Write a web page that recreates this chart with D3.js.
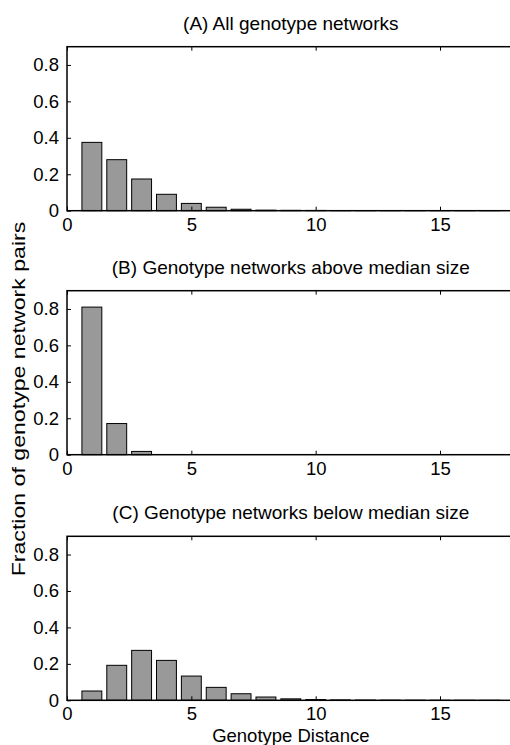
<!DOCTYPE html>
<html><head><meta charset="utf-8">
<script src="https://cdn.jsdelivr.net/npm/d3@7"></script>
<style>body{margin:0;background:#fff}svg{display:block}text{font-family:Arial,"Liberation Sans",sans-serif;fill:#000}</style>
</head><body>
<script>
const distances = d3.range(1, 18);
const titles = ["(A) All genotype networks", "(B) Genotype networks above median size", "(C) Genotype networks below median size"];
const allValues   = [0.375,0.28,0.174,0.09,0.04,0.019,0.008,0.003,0.002,0.0015,0.001,0.001,0.0008,0.0006,0.0005,0.0004,0.0003];
const aboveValues = [0.81,0.171,0.018,0,0,0,0,0,0,0,0,0,0,0,0,0,0];
const belowValues = [0.051,0.192,0.274,0.219,0.133,0.071,0.036,0.018,0.008,0.004,0.002,0.0012,0.0008,0.0005,0.0003,0.0002,0.0001];
const xTicks = [0,5,10,15];
const yTicks = [0,0.2,0.4,0.6,0.8];
const xLabel = "Genotype Distance";
const yLabel = "Fraction of genotype network pairs";

const W = 510, H = 745;
const svg = d3.select("body").append("svg").attr("width", W).attr("height", H);
const left = 67, right = 514.6, ph = 164;
const tops = [46.7, 290.7, 536.3];
const series = [allValues, aboveValues, belowValues];
const x = d3.scaleLinear().domain([0,18]).range([left,right]);
const barW = x(0.8) - x(0);

series.forEach((vals, i) => {
  const top = tops[i];
  const y = d3.scaleLinear().domain([0,0.9]).range([top+ph, top]);
  const g = svg.append("g");
  g.selectAll("rect.bar").data(distances).enter().append("rect")
    .attr("x", d => x(d) - barW/2).attr("width", barW)
    .attr("y", (d,j) => y(vals[j])).attr("height", (d,j) => y(0) - y(vals[j]))
    .attr("fill", "#999999").attr("stroke", "#000").attr("stroke-width", 1);
  // box
  g.append("rect").attr("x", left).attr("y", top).attr("width", right-left).attr("height", ph)
    .attr("fill","none").attr("stroke","#000").attr("stroke-width",1.5);
  // x axis bottom ticks
  const xb = d3.axisBottom(x).tickValues(xTicks).tickSizeInner(-4).tickSizeOuter(0).tickPadding(10).tickFormat(d3.format("d"));
  const ax = g.append("g").attr("transform", `translate(0,${top+ph})`).call(xb);
  ax.select(".domain").remove();
  ax.selectAll("line").attr("stroke-width",1);
  ax.selectAll("text").attr("font-size", 18.5).attr("dy", "0.75em").attr("y", 6);
  // top ticks
  const xt = d3.axisTop(x).tickValues(xTicks).tickSizeInner(-4).tickSizeOuter(0).tickFormat("");
  const at = g.append("g").attr("transform", `translate(0,${top})`).call(xt);
  at.select(".domain").remove();
  // y axis
  const yl = d3.axisLeft(y).tickValues(yTicks).tickSizeInner(-4).tickSizeOuter(0).tickPadding(8)
    .tickFormat(d => d === 0 ? "0" : d3.format(".1f")(d));
  const ay = g.append("g").attr("transform", `translate(${left},0)`).call(yl);
  ay.select(".domain").remove();
  ay.selectAll("text").attr("font-size", 18.5);
  // title
  svg.append("text").attr("x", (left+right)/2).attr("y", top - 17).attr("text-anchor","middle")
    .attr("font-size", 19).text(titles[i]);
});

svg.append("text").attr("x", (left+right)/2).attr("y", 742).attr("text-anchor","middle")
  .attr("font-size", 18.5).text(xLabel);
svg.append("text").attr("transform", "translate(25,399) rotate(-90) scale(1.25,1)").attr("text-anchor","middle")
  .attr("font-size", 18.5).text(yLabel);
</script>
</body></html>
